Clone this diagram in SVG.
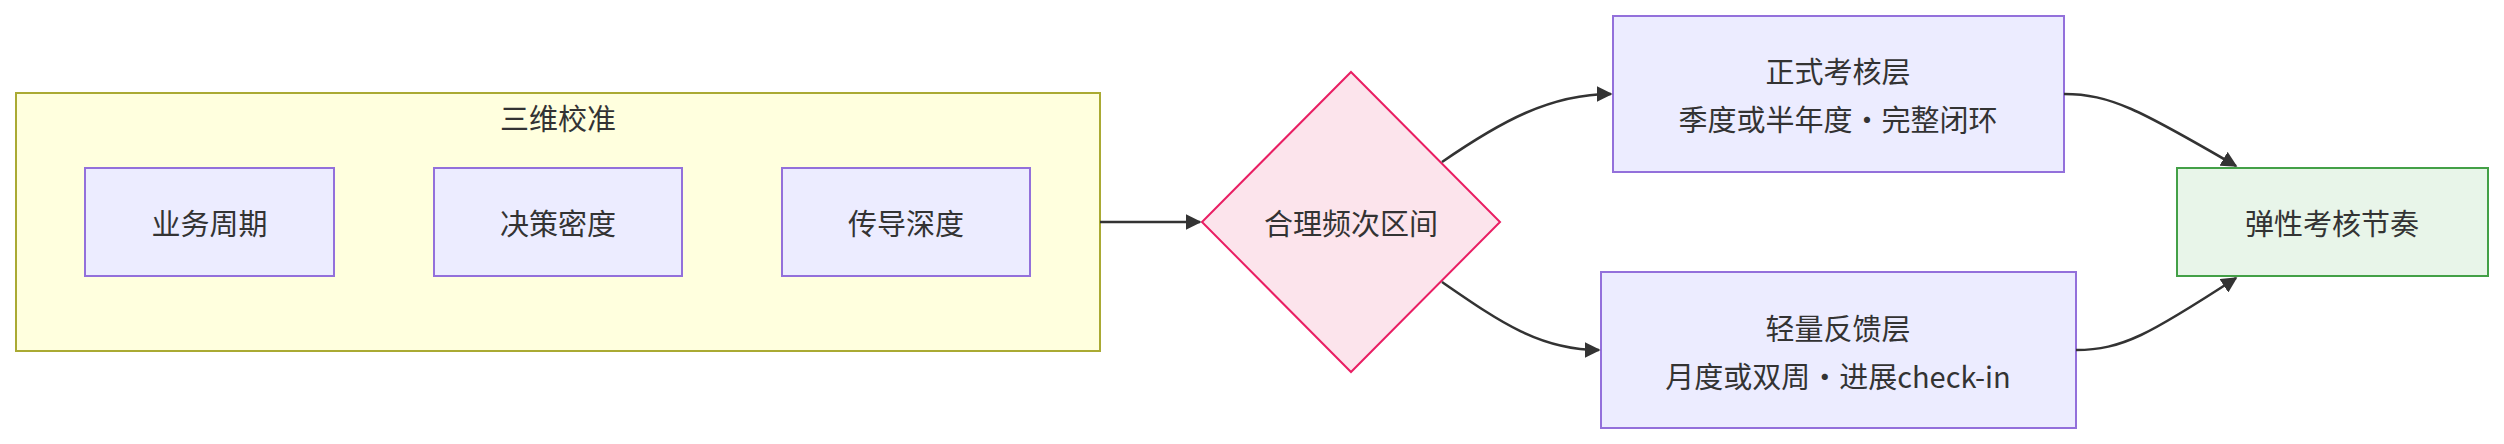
<svg xmlns="http://www.w3.org/2000/svg" width="2504" height="444" viewBox="0 0 2504 444">
<style>
text{font-family:"Noto Sans CJK SC","Liberation Sans",sans-serif;font-size:29px;fill:#333;text-anchor:middle;dominant-baseline:central}
.n{fill:#ECECFF;stroke:#9370DB;stroke-width:2}
.e{fill:none;stroke:#333;stroke-width:2.5}
</style>
<defs><marker id="a" viewBox="0 0 10 10" refX="9" refY="5" markerWidth="8" markerHeight="8" markerUnits="userSpaceOnUse" orient="auto"><path d="M0,0L10,5L0,10z" fill="#333"/></marker>
<marker id="b" viewBox="0 0 10 10" refX="9" refY="5" markerWidth="16" markerHeight="16" markerUnits="userSpaceOnUse" orient="auto"><path d="M0,0L10,5L0,10z" fill="#333"/></marker></defs>
<g id="cluster"><rect x="16" y="93" width="1084" height="258" fill="#FFFFDE" stroke="#AAAA33" stroke-width="2"/><text x="558" y="117">三维校准</text></g>
<g id="n1"><rect class="n" x="85" y="168" width="249" height="108"/><text x="209.5" y="222">业务周期</text></g>
<g id="n2"><rect class="n" x="434" y="168" width="248" height="108"/><text x="558" y="222">决策密度</text></g>
<g id="n3"><rect class="n" x="782" y="168" width="248" height="108"/><text x="906" y="222">传导深度</text></g>
<g id="d"><polygon points="1351,72 1500,222 1351,372 1202,222" fill="#FCE4EC" stroke="#E91E63" stroke-width="2"/><text x="1351" y="222">合理频次区间</text></g>
<g id="top"><rect class="n" x="1613" y="16" width="451" height="156"/><text x="1838" y="70">正式考核层</text><text x="1838" y="118">季度或半年度·完整闭环</text></g>
<g id="bot"><rect class="n" x="1601" y="272" width="475" height="156"/><text x="1838" y="327">轻量反馈层</text><text x="1838" y="375">月度或双周·进展check-in</text></g>
<g id="g"><rect x="2177" y="168" width="311" height="108" fill="#E8F5E9" stroke="#43A047" stroke-width="2"/><text x="2332" y="222">弹性考核节奏</text></g>
<g id="edges">
<path class="e" d="M1100,222H1200" marker-end="url(#b)"/>
<path class="e" d="M1442,162C1500,122 1550,94 1611,94" marker-end="url(#b)"/>
<path class="e" d="M1442,282C1500,322 1540,350 1599,350" marker-end="url(#b)"/>
<path class="e" d="M2064,94C2110,94 2140,110 2236,166" marker-end="url(#b)"/>
<path class="e" d="M2076,350C2122,350 2150,334 2236,278" marker-end="url(#b)"/>
</g>
</svg>
